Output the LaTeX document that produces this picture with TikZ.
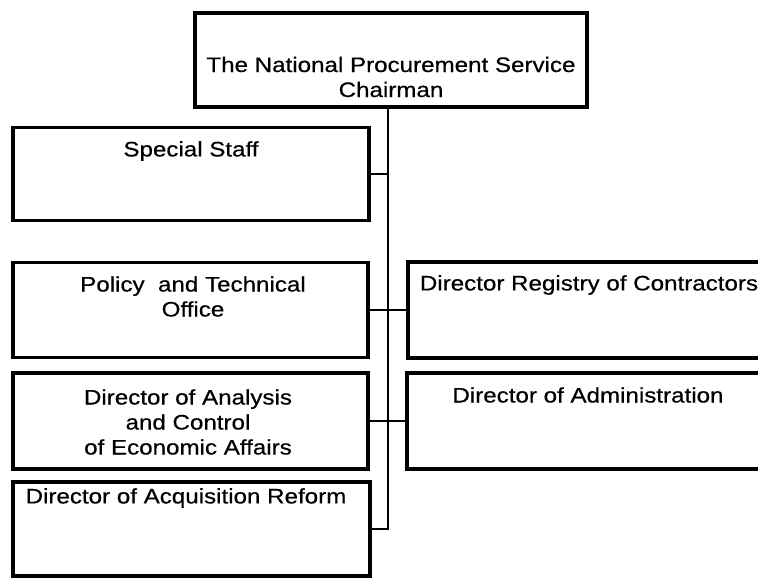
\documentclass[tikz,border=0pt]{standalone}
\usepackage{fontspec}
\setmainfont{Liberation Sans}[FakeStretch=1.15,FakeBold=0.5]
\begin{document}
\begin{tikzpicture}[x=1pt,y=-1pt,
  box/.style={draw, line width=3.2pt, rectangle, inner sep=0pt},
  txt/.style={align=center, inner sep=0pt, font=\fontsize{21}{25}\selectfont},
  conn/.style={line width=2.2pt}]
\useasboundingbox (0,0) rectangle (758,578);
\clip (0,0) rectangle (758,578);
% boxes
\node[box, minimum width=392pt, minimum height=94pt] (top) at (391,60) {};
\node[box, minimum width=356pt, minimum height=93pt] (ss) at (191,174) {};
\node[box, minimum width=355pt, minimum height=95pt] (pol) at (190.5,310) {};
\node[box, minimum width=355pt, minimum height=96pt] (ana) at (190.5,421) {};
\node[box, minimum width=357pt, minimum height=94pt] (acq) at (191.5,529) {};
\node[box, minimum width=382pt, minimum height=96pt] (reg) at (599,310) {};
\node[box, minimum width=382pt, minimum height=96pt] (adm) at (598,421) {};
% texts
\node[txt] (ttop) at (391,77) {The National Procurement Service\\Chairman};
\node[txt] (tss) at (191,151) {Special Staff};
\node[txt] (tpol) at (193,296.5) {Policy\ \ and Technical\\Office};
\node[txt] (tana) at (188,422) {Director of Analysis\\and Control\\of Economic Affairs};
\node[txt] (tacq) at (186,498) {Director of Acquisition Reform};
\node[txt] (treg) at (589,285) {Director Registry of Contractors};
\node[txt] (tadm) at (588,395) {Director of Administration};
% connectors
\coordinate (trunk) at (388,529);
\draw[conn] (top.south -| trunk) -- (trunk) -- (acq.east);
\draw[conn] (ss.east) -- (ss.east -| trunk);
\draw[conn] (pol.east) -- (reg.west);
\draw[conn] (ana.east) -- (adm.west);
\end{tikzpicture}
\end{document}
